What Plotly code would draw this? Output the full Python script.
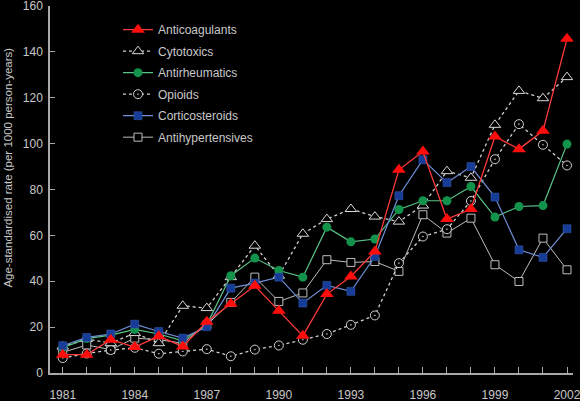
import plotly.graph_objects as go

years = list(range(1981, 2003))

anticoagulants = [8, 8, 14.5, 11.3, 16, 11.6, 22.3, 30.2, 38, 27.1, 16.2, 34.4,
                  42.1, 53, 88.6, 96.6, 67.1, 71.5, 103.1, 97.6, 105.6, 145.7]
cytotoxics = [11.5, 14.8, 13, 17.4, 13, 29.3, 28.3, 41.8, 55.5, 42.4, 60.7, 67.1,
              71.5, 68.2, 66, 73, 88, 85.1, 108.2, 123, 119.8, 129]
antirheumatics = [11, 15, 16.5, 19, 17, 14, 21, 42.4, 50.1, 44.7, 41.8, 63.6,
                  57.2, 58.4, 71.3, 75.1, 75.1, 81.3, 68, 72.6, 73, 99.8]
opioids = [6.5, 8.5, 10, 11, 8.4, 9.4, 10.4, 7.3, 10.2, 12, 14.5, 17,
           21, 25.1, 47.9, 59.5, 62.7, 75, 93.2, 108.5, 99.5, 90.5]
corticosteroids = [11.9, 15.5, 17, 21.3, 18.1, 15.2, 20.2, 37, 39.2, 41.8, 30.5, 38.2,
                   35.6, 50.8, 77.3, 93, 83, 90, 76.7, 53.7, 50.4, 62.9]
antihypertensives = [9, 12.2, 10.2, 15.2, 14.5, 13, 21, 30.8, 41.8, 31.2, 34.9, 49.4,
                     48.2, 48.6, 44.3, 69, 61, 67.5, 47.2, 39.9, 58.8, 45]

tick_years = list(range(1981, 2003))
tick_labels = [str(y) if (y - 1981) % 3 == 0 else "" for y in tick_years]

fig = go.Figure()

# drawing order: back to front; legendrank keeps the legend order
fig.add_trace(go.Scatter(
    x=years, y=antihypertensives, name="Antihypertensives", legendrank=6,
    legendgroup="g6",
    mode="lines+markers", line=dict(color="#bdbdbd", width=1),
    marker=dict(symbol="square", size=8, color="black", line=dict(color="#bdbdbd", width=1))))
fig.add_trace(go.Scatter(
    x=years, y=opioids, name="Opioids", legendrank=4, legendgroup="g4",
    mode="lines+markers", line=dict(color="#cfcfcf", width=1.3, dash="3px,3px"),
    marker=dict(symbol="circle-dot", size=9, color="black", line=dict(color="#d0d0d0", width=1))))
fig.add_trace(go.Scatter(
    x=years, y=cytotoxics, name="Cytotoxics", legendrank=2, legendgroup="g2",
    mode="lines+markers", line=dict(color="#d0d0d0", width=1.3, dash="3px,3px"),
    marker=dict(symbol="triangle-up", size=10, color="black", line=dict(color="#d8d8d8", width=1))))
fig.add_trace(go.Scatter(
    x=years, y=antirheumatics, name="Antirheumatics", legendrank=3, legendgroup="g3",
    mode="lines+markers", line=dict(color="#5cc487", width=1.2),
    marker=dict(symbol="circle", size=9, color="#12924a")))
fig.add_trace(go.Scatter(
    x=years, y=corticosteroids, name="Corticosteroids", legendrank=5, legendgroup="g5",
    mode="lines+markers", line=dict(color="#6f8fd6", width=1.2),
    marker=dict(symbol="square", size=8, color="#173c97", line=dict(color="#3a5cb0", width=0.5))))
fig.add_trace(go.Scatter(
    x=years, y=anticoagulants, name="Anticoagulants", legendrank=1, legendgroup="g1",
    mode="lines+markers", line=dict(color="#ff3a3a", width=1.3),
    marker=dict(symbol="triangle-up", size=12, color="#ff0d0d")))

axis_color = "#a8a8a8"
font_color = "#c8c8c8"

fig.update_layout(
    width=580, height=401,
    paper_bgcolor="black", plot_bgcolor="black",
    margin=dict(l=50, r=7, t=6, b=28),
    font=dict(family="Liberation Sans", size=12, color=font_color),
    showlegend=True,
    legend=dict(x=0.13, y=0.975, xanchor="left", yanchor="top",
                bgcolor="rgba(0,0,0,0)", font=dict(size=12, color=font_color),
                tracegroupgap=2.5),
    xaxis=dict(range=[1980.47, 2002.25], tickvals=tick_years, ticktext=tick_labels,
               ticks="inside", ticklen=6, tickcolor=axis_color, tickwidth=1,
               ticklabelstandoff=10, ticklabeloverflow="allow", automargin=False,
               showline=True, linecolor=axis_color, linewidth=1.5,
               showgrid=False, zeroline=False, tickfont=dict(size=12, color=font_color)),
    yaxis=dict(range=[0, 160.01], tickvals=list(range(0, 161, 20)), ticks="inside", ticklen=5,
               tickcolor=axis_color, tickwidth=1, ticklabelstandoff=3,
               ticklabeloverflow="allow",
               showline=True, linecolor=axis_color, linewidth=1.5,
               showgrid=False, zeroline=False, tickfont=dict(size=12, color=font_color),
               automargin=False),
)

fig.add_annotation(
    text="Age-standardised rate (per 1000 person-years)",
    xref="paper", yref="paper", x=-0.082, y=0.5 + (190 - 168) / 367,
    xanchor="center", yanchor="middle", textangle=-90, showarrow=False,
    font=dict(size=11.5, color=font_color))

fig.write_html("out.html", config={"displayModeBar": False},
               post_script="document.body.style.margin='0';")
